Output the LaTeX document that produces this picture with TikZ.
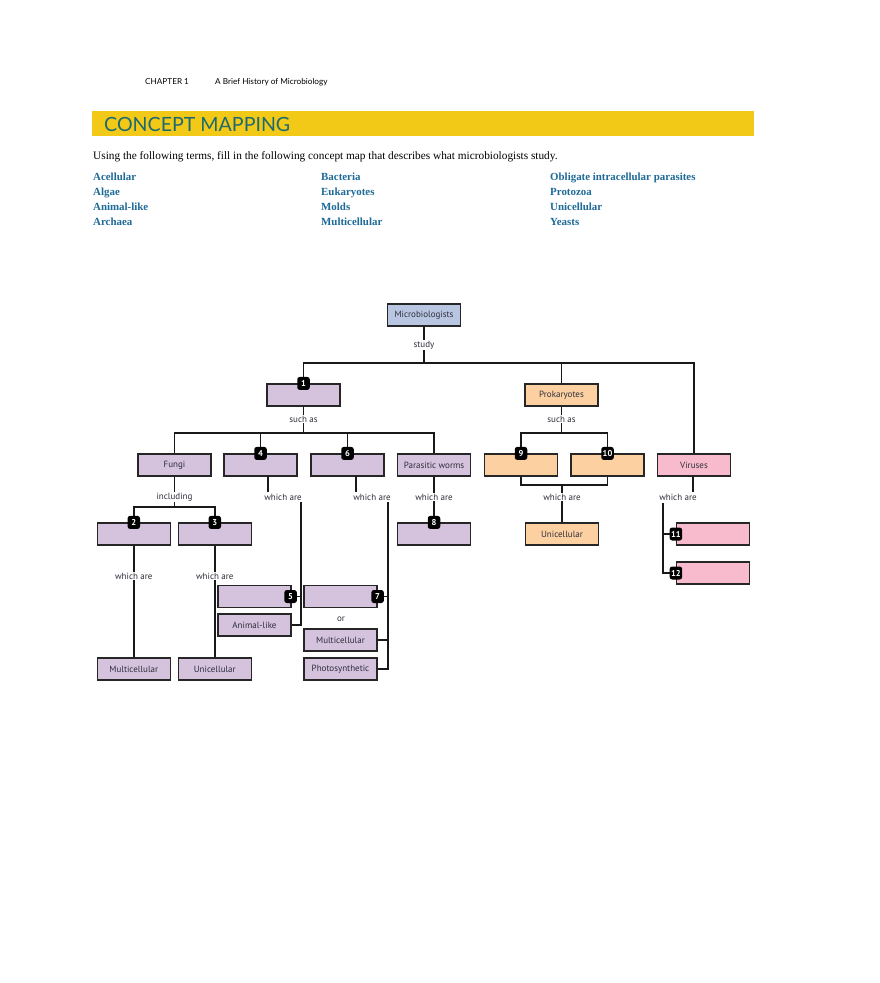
\documentclass[tikz,border=0pt]{standalone}
\usepackage{fontspec}
\setmainfont{Liberation Serif}
\newfontfamily\boxfont{PT Sans}
\newfontfamily\titlefont{Lato}
\definecolor{barY}{HTML}{F2C916}
\definecolor{titleT}{HTML}{1E6A70}
\definecolor{termB}{HTML}{1E6A98}
\definecolor{purp}{HTML}{D5C2DD}
\definecolor{oran}{HTML}{FDD0A2}
\definecolor{pinkF}{HTML}{F8BBCD}
\definecolor{blueF}{HTML}{B8C6E2}
\definecolor{txt}{HTML}{2E2E3A}
\begin{document}
\begin{tikzpicture}[x=1pt,y=-1pt,
  cbox/.style={draw=black!85,line width=1.2pt,minimum width=73pt,minimum height=22pt,inner sep=0pt,font=\boxfont\fontsize{9}{10}\selectfont,text=txt,fill=purp},
  obox/.style={cbox,fill=oran},
  pbox/.style={cbox,fill=pinkF},
  bbox/.style={cbox,fill=blueF},
  lbl/.style={font=\boxfont\fontsize{9}{10}\selectfont,text=txt,inner sep=1pt},
  badge/.style={fill=black,rounded corners=2.5pt,text=white,font=\boxfont\bfseries\fontsize{8.5}{9}\selectfont,minimum width=12.5pt,minimum height=13pt,inner sep=1pt},
  conn/.style={line width=1.4pt,draw=black!90},
  term/.style={anchor=base west,font=\bfseries\fontsize{10.9}{12}\selectfont,text=termB,inner sep=0pt}]
\useasboundingbox (0,0) rectangle (880,983);
\fill[white] (0,0) rectangle (880,983);
% header
\node[anchor=base west,inner sep=0pt,font=\titlefont\fontsize{8.2}{9}\selectfont] (chap) at (145,84) {CHAPTER 1};
\node[anchor=base west,inner sep=0pt,font=\titlefont\fontsize{8.2}{9}\selectfont] (chapt) at (215,84) {A Brief History of Microbiology};
\fill[barY] (92,111) rectangle (754,136);
\node[anchor=base west,inner sep=0pt,font=\titlefont\fontsize{19.6}{22}\selectfont,text=titleT] (title) at (104,131.5) {CONCEPT MAPPING};
\node[anchor=base west,inner sep=0pt,font=\fontsize{11.3}{13}\selectfont] (intro) at (93,159) {Using the following terms, fill in the following concept map that describes what microbiologists study.};
\node[term] (t1) at (93,180) {Acellular};
\node[term] (t2) at (93,195) {Algae};
\node[term] (t3) at (93,210) {Animal-like};
\node[term] (t4) at (93,225) {Archaea};
\node[term] (t5) at (321,180) {Bacteria};
\node[term] (t6) at (321,195) {Eukaryotes};
\node[term] (t7) at (321,210) {Molds};
\node[term] (t8) at (321,225) {Multicellular};
\node[term] (t9) at (550,180) {Obligate intracellular parasites};
\node[term] (t10) at (550,195) {Protozoa};
\node[term] (t11) at (550,210) {Unicellular};
\node[term] (t12) at (550,225) {Yeasts};
% boxes
\node[bbox] (mic) at (424,315) {Microbiologists};
\node[cbox] (b1) at (303.5,395) {};
\node[obox] (prok) at (561.5,395) {Prokaryotes};
\node[cbox] (fungi) at (174.5,465) {Fungi};
\node[cbox] (b4) at (260.5,465) {};
\node[cbox] (b6) at (347.5,465) {};
\node[cbox] (pw) at (434,465) {Parasitic worms};
\node[obox] (b9) at (521,465) {};
\node[obox] (b10) at (607.5,465) {};
\node[pbox] (vir) at (694,465) {Viruses};
\node[cbox] (b2) at (133.8,534) {};
\node[cbox] (b3) at (214.8,534) {};
\node[cbox] (b8) at (434,534) {};
\node[obox] (uni1) at (562,534) {Unicellular};
\node[pbox] (b11) at (713,534) {};
\node[pbox] (b12) at (713,573) {};
\node[cbox] (b5) at (254.5,596.5) {};
\node[cbox] (anim) at (254.5,625) {Animal-like};
\node[cbox] (b7) at (340.5,596.5) {};
\node[cbox] (multi7) at (340.5,640) {Multicellular};
\node[cbox] (photo) at (340.5,669) {Photosynthetic};
\node[cbox] (multi2) at (133.8,669) {Multicellular};
\node[cbox] (uni3) at (214.8,669) {Unicellular};
% connector corner points
\coordinate (topbar) at (424,363);
\coordinate (euk) at (303.5,433);
\coordinate (pro) at (561.5,433);
\coordinate (fun) at (174.5,507);
\coordinate (bac) at (562,485);
\coordinate (v4) at (301,502);
\coordinate (v6) at (388,502);
\coordinate (vv) at (663,503);
% connectors
\draw[conn] (mic) -- (topbar);
\draw[conn] (b1.north) -- (b1.north |- topbar) -- (vir.north |- topbar) -- (vir.north);
\draw[conn] (prok.north |- topbar) -- (prok.north);
\draw[conn] (b1) -- (euk);
\draw[conn] (fungi.north) -- (fungi.north |- euk) -- (pw.north |- euk) -- (pw.north);
\draw[conn] (b4.north |- euk) -- (b4.north);
\draw[conn] (b6.north |- euk) -- (b6.north);
\draw[conn] (prok) -- (pro);
\draw[conn] (b9.north) -- (b9.north |- pro) -- (b10.north |- pro) -- (b10.north);
\draw[conn] (fungi) -- (fun);
\draw[conn] (b2.north) -- (b2.north |- fun) -- (b3.north |- fun) -- (b3.north);
\draw[conn] (b2) -- (multi2);
\draw[conn] (b3) -- (uni3);
\draw[conn] (pw) -- (b8);
\draw[conn] (b9.south) -- (b9.south |- bac) -- (b10.south |- bac) -- (b10.south);
\draw[conn] (bac) -- (uni1);
\draw[conn] (268,476) -- (268,492);
\draw[conn] (v4) -- (v4 |- anim) -- (anim.east);
\draw[conn] (v4 |- b5) -- (b5.east);
\draw[conn] (356,476) -- (356,492);
\draw[conn] (v6) -- (v6 |- photo) -- (photo.east);
\draw[conn] (v6 |- b7) -- (b7.east);
\draw[conn] (v6 |- multi7) -- (multi7.east);
\draw[conn] (vir.south -| 693,0) -- (693,492);
\draw[conn] (vv) -- (vv |- b12) -- (b12.west);
\draw[conn] (vv |- b11) -- (b11.west);
% labels
\node[lbl,fill=white] (lstudy) at (424,345) {study};
\node[lbl,fill=white] (lsa1) at (303.5,419) {such as};
\node[lbl,fill=white] (lsa2) at (561.5,419) {such as};
\node[lbl,fill=white] (linc) at (174.5,497) {including};
\node[lbl,fill=white] (lw4) at (283,497) {which are};
\node[lbl,fill=white] (lw6) at (372,497) {which are};
\node[lbl,fill=white] (lwpw) at (434,497) {which are};
\node[lbl,fill=white] (lwbac) at (562,497) {which are};
\node[lbl,fill=white] (lwv) at (678,497) {which are};
\node[lbl,fill=white] (lw2) at (133.8,576) {which are};
\node[lbl,fill=white] (lw3) at (214.8,576) {which are};
\node[lbl] (lor) at (341,619) {or};
% badges
\node[badge] at (b1.north) {1};
\node[badge] at (b2.north) {2};
\node[badge] at (b3.north) {3};
\node[badge] at (b4.north) {4};
\node[badge] at ([xshift=-1pt]b5.east) {5};
\node[badge] at (b6.north) {6};
\node[badge] at (b7.east) {7};
\node[badge] at (b8.north) {8};
\node[badge] at (b9.north) {9};
\node[badge] at (b10.north) {10};
\node[badge] at (b11.west) {11};
\node[badge] at (b12.west) {12};
\end{tikzpicture}
\end{document}
